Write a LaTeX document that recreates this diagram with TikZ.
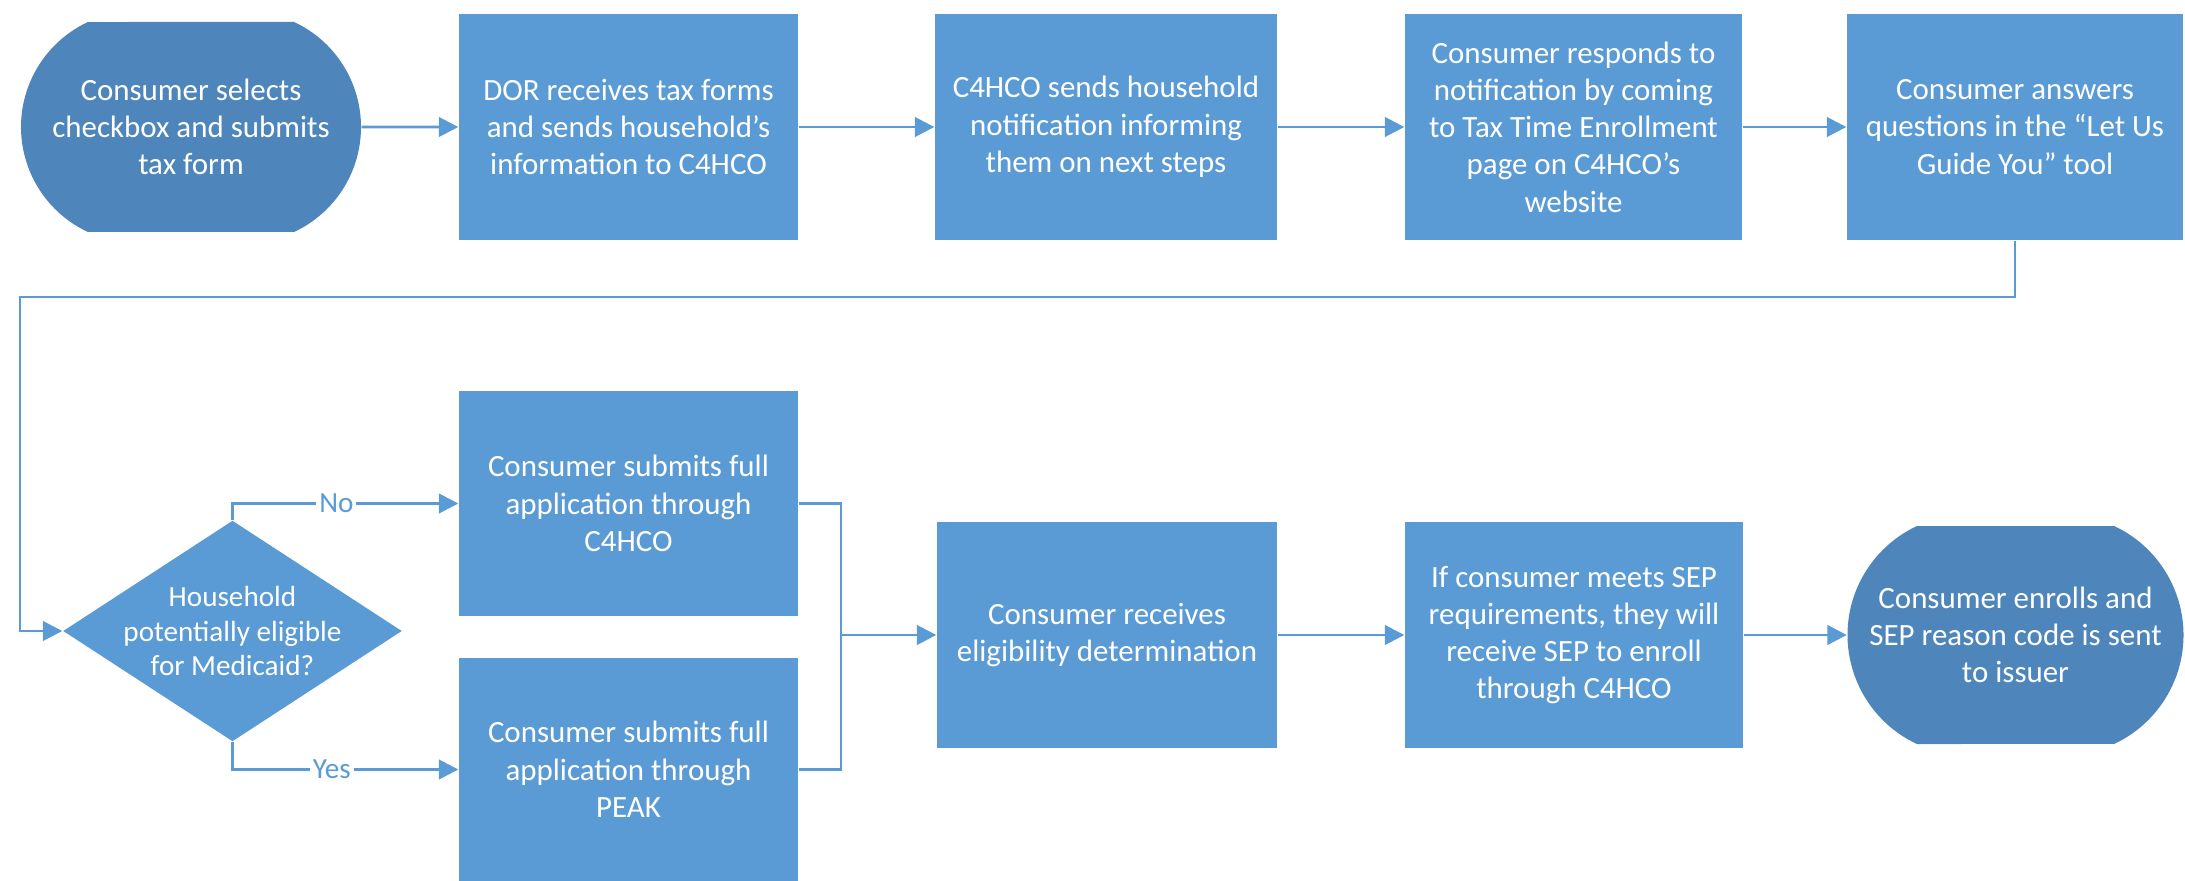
\documentclass[tikz,border=0pt]{standalone}
\usepackage{fontspec}
\setmainfont{Carlito}
\usetikzlibrary{shapes.geometric,shapes.misc,arrows.meta}
\definecolor{boxblue}{RGB}{91,155,213}
\definecolor{termblue}{RGB}{78,134,188}

\begin{document}
\begin{tikzpicture}
  [box/.style={rectangle, fill=boxblue, text=white, align=center,
     minimum width=3.39cm, minimum height=2.26cm, inner sep=0pt,
     font=\fontsize{8.8}{10.6}\selectfont},
   term/.style={rounded rectangle, rounded rectangle arc length=130,
     fill=termblue, text=white, align=center, inner sep=0pt,
     minimum width=3.4cm, minimum height=2.1cm,
     font=\fontsize{8.8}{10.6}\selectfont},
   decision/.style={diamond, fill=boxblue, inner sep=0pt,
     minimum width=3.39cm, minimum height=2.21cm},
   dtext/.style={text=white, align=center, inner sep=0pt,
     font=\fontsize{8.3}{9.8}\selectfont},
   flow/.style={draw=boxblue, line width=0.8pt,
     -{Triangle[length=5.5pt,width=5.5pt]}},
   plain/.style={draw=boxblue, line width=0.8pt},
   lbl/.style={fill=white, text=boxblue, inner sep=0.8pt,
     font=\fontsize{8.3}{9.8}\selectfont}]
  \useasboundingbox (0,0) rectangle (21.85,-8.81);
  % top row
  \node[term] (t1) at (1.91,-1.27) {Consumer selects\\checkbox and submits\\tax form};
  \node[box] (b2) at (6.285,-1.27) {DOR receives tax forms\\and sends household’s\\information to C4HCO};
  \node[box, minimum width=3.42cm] (b3) at (11.06,-1.27) {C4HCO sends household\\notification informing\\them on next steps};
  \node[box, minimum width=3.37cm] (b4) at (15.735,-1.27) {Consumer responds to\\notification by coming\\to Tax Time Enrollment\\page on C4HCO’s\\website};
  \node[box, minimum width=3.36cm] (b5) at (20.15,-1.27) {Consumer answers\\questions in the “Let Us\\Guide You” tool};
  % bottom rows
  \node[decision] (d) at (2.325,-6.31) {};
  \node[dtext] at (d) {Household\\potentially eligible\\for Medicaid?};
  \node[box, minimum height=2.25cm] (b6) at (6.285,-5.035) {Consumer submits full\\application through\\C4HCO};
  \node[box, minimum height=2.23cm] (b7) at (6.285,-7.695) {Consumer submits full\\application through\\PEAK};
  \node[box, minimum width=3.40cm] (b8) at (11.07,-6.35) {Consumer receives\\eligibility determination};
  \node[box, minimum width=3.38cm] (b9) at (15.74,-6.35) {If consumer meets SEP\\requirements, they will\\receive SEP to enroll\\through C4HCO};
  \node[term, minimum width=3.36cm, minimum height=2.18cm] (t2) at (20.155,-6.35) {Consumer enrolls and\\SEP reason code is sent\\to issuer};
  \coordinate (ret) at (0.20,-2.97);
  \coordinate (m) at (8.41,-6.35);
  % connectors
  \draw[flow] (t1) -- (b2);
  \draw[flow] (b2) -- (b3);
  \draw[flow] (b3) -- (b4);
  \draw[flow] (b4) -- (b5);
  \draw[flow] (b5.south) |- (ret) |- (d.west);
  \draw[flow] (d.north) |- node[lbl, pos=0.73] {No} (b6.west);
  \draw[flow] (d.south) |- node[lbl, pos=0.72] {Yes} (b7.west);
  \draw[plain] (b6.east) -| (m);
  \draw[plain] (b7.east) -| (m);
  \draw[flow] (m) -- (b8);
  \draw[flow] (b8) -- (b9);
  \draw[flow] (b9) -- (t2);
\end{tikzpicture}
\end{document}
